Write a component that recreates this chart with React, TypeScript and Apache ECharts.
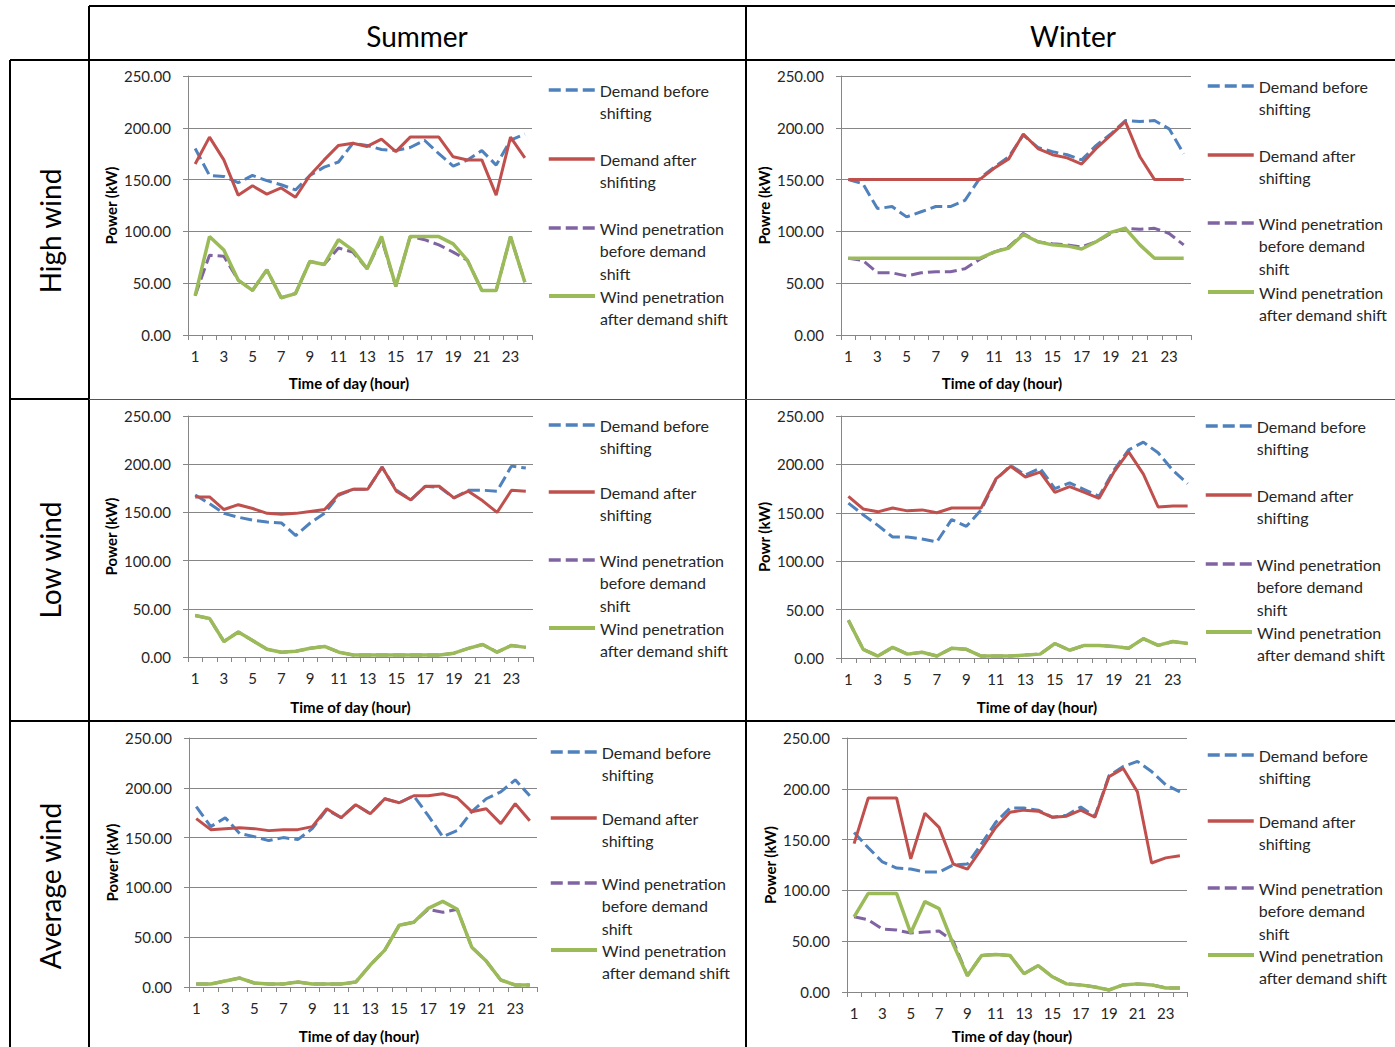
import React, { useEffect, useRef } from "react";
import * as echarts from "echarts";

// ---------- data ----------
const hours = ["1", "2", "3", "4", "5", "6", "7", "8", "9", "10", "11", "12", "13", "14", "15", "16", "17", "18", "19", "20", "21", "22", "23", "24"];
const yTickValues = [0, 50, 100, 150, 200, 250];

const seriesNames = [
  "Demand before shifting",
  "Demand after shifting",
  "Wind penetration before demand shift",
  "Wind penetration after demand shift",
];

const columnHeaders = ["Summer", "Winter"];
const rowHeaders = ["High wind", "Low wind", "Average wind"];

// Summer – high wind
const summerHighDemandBefore = [180, 154, 153, 147, 154, 149, 145, 140, 154, 162, 167, 185, 183, 179, 178, 181, 188, 175, 163, 169, 178, 164, 188, 194];
const summerHighDemandAfter = [165, 191, 169, 135, 144, 136, 142, 133, 154, 169, 183, 185, 182, 189, 177, 191, 191, 191, 172, 169, 169, 135, 191, 171];
const summerHighWindBefore = [38, 77, 76, 53, 43, 63, 36, 40, 71, 68, 84, 80, 64, 93, 47, 95, 92, 87, 80, 72, 43, 43, 95, 51];
const summerHighWindAfter = [38, 95, 82, 53, 43, 63, 36, 40, 71, 68, 92, 82, 64, 95, 47, 95, 95, 95, 88, 72, 43, 43, 95, 51];

// Winter – high wind
const winterHighDemandBefore = [150, 146, 122, 124, 114, 119, 124, 124, 130, 151, 162, 172, 193, 181, 177, 174, 169, 183, 194, 207, 206, 207, 199, 175];
const winterHighDemandAfter = [150, 150, 150, 150, 150, 150, 150, 150, 150, 150, 161, 170, 194, 180, 174, 171, 165, 180, 193, 206, 172, 150, 150, 150];
const winterHighWindBefore = [74, 72, 60, 60, 57, 60, 61, 61, 64, 73, 80, 85, 98, 90, 88, 87, 85, 90, 98, 103, 102, 103, 98, 87];
const winterHighWindAfter = [74, 74, 74, 74, 74, 74, 74, 74, 74, 74, 80, 84, 97, 90, 87, 86, 83, 90, 99, 103, 87, 74, 74, 74];

// Summer – low wind
const summerLowDemandBefore = [168, 159, 149, 145, 142, 140, 139, 126, 139, 149, 168, 174, 174, 197, 173, 163, 177, 176, 165, 173, 173, 172, 198, 196];
const summerLowDemandAfter = [166, 166, 153, 158, 154, 149, 148, 149, 151, 153, 169, 174, 174, 197, 172, 163, 177, 177, 165, 172, 162, 150, 173, 172];
const summerLowWindBefore = [43, 40, 16, 26, 17, 8, 5, 6, 9, 11, 5, 2, 2, 2, 2, 2, 2, 2, 4, 9, 13, 5, 12, 10];
const summerLowWindAfter = [43, 40, 16, 26, 17, 8, 5, 6, 9, 11, 5, 2, 2, 2, 2, 2, 2, 2, 4, 9, 13, 5, 12, 10];

// Winter – low wind
const winterLowDemandBefore = [160, 148, 137, 125, 125, 123, 120, 143, 136, 153, 184, 199, 189, 196, 175, 181, 174, 167, 194, 215, 223, 212, 194, 180];
const winterLowDemandAfter = [167, 154, 151, 155, 152, 153, 150, 155, 155, 155, 185, 198, 187, 192, 171, 177, 171, 165, 192, 213, 190, 156, 157, 157];
const winterLowWindBefore = [39, 9, 2, 11, 4, 6, 2, 10, 9, 2, 2, 2, 3, 4, 15, 8, 13, 13, 12, 10, 20, 13, 17, 15];
const winterLowWindAfter = [39, 9, 2, 11, 4, 6, 2, 10, 9, 2, 2, 2, 3, 4, 15, 8, 13, 13, 12, 10, 20, 13, 17, 15];

// Summer – average wind
const summerAvgDemandBefore = [181, 161, 170, 154, 151, 147, 150, 148, 159, 178, 170, 183, 174, 189, 185, 192, 172, 151, 157, 176, 189, 196, 208, 192];
const summerAvgDemandAfter = [169, 158, 159, 160, 159, 157, 158, 158, 161, 179, 170, 183, 174, 189, 185, 192, 192, 194, 190, 176, 179, 164, 184, 167];
const summerAvgWindBefore = [3, 3, 6, 9, 4, 3, 3, 5, 3, 3, 3, 5, 22, 37, 62, 65, 78, 75, 78, 40, 26, 7, 2, 2];
const summerAvgWindAfter = [3, 3, 6, 9, 4, 3, 3, 5, 3, 3, 3, 5, 22, 37, 62, 65, 79, 86, 78, 40, 26, 7, 2, 2];

// Winter – average wind
const winterAvgDemandBefore = [157, 142, 128, 122, 121, 118, 118, 125, 126, 146, 167, 181, 181, 179, 172, 174, 182, 173, 213, 222, 227, 217, 204, 197];
const winterAvgDemandAfter = [146, 191, 191, 191, 131, 176, 162, 126, 121, 141, 162, 177, 179, 178, 172, 173, 179, 172, 212, 220, 197, 127, 132, 134];
const winterAvgWindBefore = [74, 71, 62, 61, 58, 59, 60, 50, 16, 36, 37, 36, 18, 26, 15, 8, 7, 5, 2, 7, 8, 7, 4, 4];
const winterAvgWindAfter = [74, 97, 97, 97, 58, 89, 82, 47, 16, 36, 37, 36, 18, 26, 15, 8, 7, 5, 2, 7, 8, 7, 4, 4];

const legendLabelsTypo = ["Demand before\nshifting", "Demand after\nshifiting", "Wind penetration\nbefore demand\nshift", "Wind penetration\nafter demand shift"];
const legendLabels = ["Demand before\nshifting", "Demand after\nshifting", "Wind penetration\nbefore demand\nshift", "Wind penetration\nafter demand shift"];

// ---------- layout / style ----------
const FONT = "Lato, 'Open Sans', sans-serif";
const LINE_H = 22.5;

const panels = [
  { data: [summerHighDemandBefore, summerHighDemandAfter, summerHighWindBefore, summerHighWindAfter], grid: { left: 188, top: 76, width: 344, height: 259 }, yName: "Power (kW)", labels: legendLabelsTypo, legendX: 547, legendY: [90, 159, 228, 296], xShift: -11, xGap: 40 },
  { data: [winterHighDemandBefore, winterHighDemandAfter, winterHighWindBefore, winterHighWindAfter], grid: { left: 841, top: 76, width: 350, height: 259 }, yName: "Powre (kW)", labels: legendLabels, legendX: 1206, legendY: [86, 155, 223, 292], xShift: -14, xGap: 40 },
  { data: [summerLowDemandBefore, summerLowDemandAfter, summerLowWindBefore, summerLowWindAfter], grid: { left: 188, top: 416, width: 345, height: 241 }, yName: "Power (kW)", labels: legendLabels, legendX: 547, legendY: [425, 492, 560, 628], xShift: -10, xGap: 42 },
  { data: [winterLowDemandBefore, winterLowDemandAfter, winterLowWindBefore, winterLowWindAfter], grid: { left: 841, top: 416, width: 354, height: 242 }, yName: "Powr (kW)", labels: legendLabels, legendX: 1204, legendY: [426, 495, 564, 632], xShift: 19, xGap: 41 },
  { data: [summerAvgDemandBefore, summerAvgDemandAfter, summerAvgWindBefore, summerAvgWindAfter], grid: { left: 189, top: 738, width: 348, height: 249 }, yName: "Power (kW)", labels: legendLabels, legendX: 549, legendY: [752, 818, 883, 950], xShift: -4, xGap: 41 },
  { data: [winterAvgDemandBefore, winterAvgDemandAfter, winterAvgWindBefore, winterAvgWindAfter], grid: { left: 847, top: 738, width: 340, height: 254 }, yName: "Power (kW)", labels: legendLabels, legendX: 1206, legendY: [755, 821, 888, 955], xShift: -5, xGap: 36 },
];

const lineStyles = [
  { color: "#4f81bd", type: [12, 5], width: 3 },
  { color: "#c0504d", type: "solid", width: 3 },
  { color: "#8064a2", type: [12, 5], width: 3 },
  { color: "#9bbb59", type: "solid", width: 3.5 },
];

const AXIS_GREY = "#868686";

function buildOption() {
  const grid: any[] = [];
  const xAxis: any[] = [];
  const yAxis: any[] = [];
  const series: any[] = [];
  const legend: any[] = [];

  panels.forEach((p, i) => {
    grid.push({ ...p.grid, containLabel: false });
    xAxis.push({
      type: "category",
      gridIndex: i,
      data: hours,
      boundaryGap: true,
      name: "Time of day (hour)",
      nameLocation: "middle",
      nameGap: p.xGap,
      nameTextStyle: {
        fontFamily: FONT,
        fontWeight: "bold",
        fontSize: 15,
        color: "#000",
        padding: p.xShift < 0 ? [0, -2 * p.xShift, 0, 0] : [0, 0, 0, 2 * p.xShift],
      },
      axisLine: { show: true, lineStyle: { color: AXIS_GREY, width: 1 } },
      axisTick: { show: true, interval: 0, length: 5, lineStyle: { color: AXIS_GREY } },
      axisLabel: { interval: 1, margin: 13, fontFamily: FONT, fontSize: 15, color: "#262626" },
      splitLine: { show: false },
    });
    yAxis.push({
      type: "value",
      gridIndex: i,
      min: yTickValues[0],
      max: yTickValues[yTickValues.length - 1],
      interval: yTickValues[1] - yTickValues[0],
      name: p.yName,
      nameLocation: "middle",
      nameGap: 70,
      nameRotate: 90,
      nameTextStyle: { fontFamily: FONT, fontWeight: "bold", fontSize: 15, color: "#000" },
      axisLine: { show: true, lineStyle: { color: AXIS_GREY, width: 1 } },
      axisTick: { show: true, length: 5, lineStyle: { color: AXIS_GREY } },
      axisLabel: {
        margin: 17,
        fontFamily: FONT,
        fontSize: 15,
        color: "#262626",
        formatter: (v: number) => v.toFixed(2),
      },
      splitLine: { show: true, lineStyle: { color: AXIS_GREY, width: 1 } },
    });
    p.data.forEach((vals, k) => {
      const ls = lineStyles[k];
      series.push({
        name: seriesNames[k],
        type: "line",
        xAxisIndex: i,
        yAxisIndex: i,
        data: vals,
        symbol: "none",
        showSymbol: false,
        color: ls.color,
        lineStyle: { color: ls.color, type: ls.type, width: ls.width },
        z: 2 + k,
      });
      const label = p.labels[k];
      const n = label.split("\n").length;
      const blanks = "\n".repeat(n - 1);
      legend.push({
        show: true,
        data: [seriesNames[k]],
        left: p.legendX,
        top: p.legendY[k] - ((2 * n - 1) * LINE_H) / 2,
        orient: "vertical",
        padding: 0,
        itemWidth: 46,
        itemHeight: 1,
        itemGap: 0,
        selectedMode: false,
        itemStyle: { opacity: 0 },
        lineStyle: { color: ls.color, type: ls.type, width: ls.width + 0.5, opacity: 1 },
        formatter: () => blanks + label,
        textStyle: { fontFamily: FONT, fontSize: 16, lineHeight: LINE_H, color: "#262626" },
      });
    });
  });

  const black = { stroke: "#000", lineWidth: 2 };
  const graphic: any[] = [
    { type: "line", shape: { x1: 89, y1: 6, x2: 1395, y2: 6 }, style: black },
    { type: "line", shape: { x1: 10, y1: 60, x2: 1395, y2: 60 }, style: black },
    { type: "line", shape: { x1: 10, y1: 60, x2: 10, y2: 1047 }, style: black },
    { type: "line", shape: { x1: 89, y1: 6, x2: 89, y2: 1047 }, style: black },
    { type: "line", shape: { x1: 746, y1: 6, x2: 746, y2: 1047 }, style: black },
    { type: "line", shape: { x1: 10, y1: 399, x2: 89, y2: 399 }, style: black },
    { type: "line", shape: { x1: 89, y1: 399.5, x2: 1395, y2: 399.5 }, style: { stroke: "#555", lineWidth: 1 } },
    { type: "line", shape: { x1: 10, y1: 721, x2: 1395, y2: 721 }, style: black },
    { type: "text", x: 417, y: 36, style: { text: columnHeaders[0], fontFamily: FONT, fontSize: 28, fill: "#000", align: "center", verticalAlign: "middle" } },
    { type: "text", x: 1073, y: 36, style: { text: columnHeaders[1], fontFamily: FONT, fontSize: 28, fill: "#000", align: "center", verticalAlign: "middle" } },
    { type: "text", x: 50, y: 231, rotation: Math.PI / 2, style: { text: rowHeaders[0], fontFamily: FONT, fontSize: 28, fill: "#000", align: "center", verticalAlign: "middle" } },
    { type: "text", x: 50, y: 560, rotation: Math.PI / 2, style: { text: rowHeaders[1], fontFamily: FONT, fontSize: 28, fill: "#000", align: "center", verticalAlign: "middle" } },
    { type: "text", x: 50, y: 886, rotation: Math.PI / 2, style: { text: rowHeaders[2], fontFamily: FONT, fontSize: 28, fill: "#000", align: "center", verticalAlign: "middle" } },
  ];

  return {
    animation: false,
    backgroundColor: "#fff",
    textStyle: { fontFamily: FONT },
    grid,
    xAxis,
    yAxis,
    series,
    legend,
    graphic,
  };
}

export default function App() {
  const ref = useRef<HTMLDivElement>(null);
  useEffect(() => {
    if (!ref.current) return;
    const chart = echarts.init(ref.current, undefined, { renderer: "svg" });
    chart.setOption(buildOption() as any);
    return () => chart.dispose();
  }, []);
  return (
    <div
      ref={ref}
      style={{ position: "absolute", left: 0, top: 0, width: 1395, height: 1047, background: "#fff" }}
    />
  );
}
